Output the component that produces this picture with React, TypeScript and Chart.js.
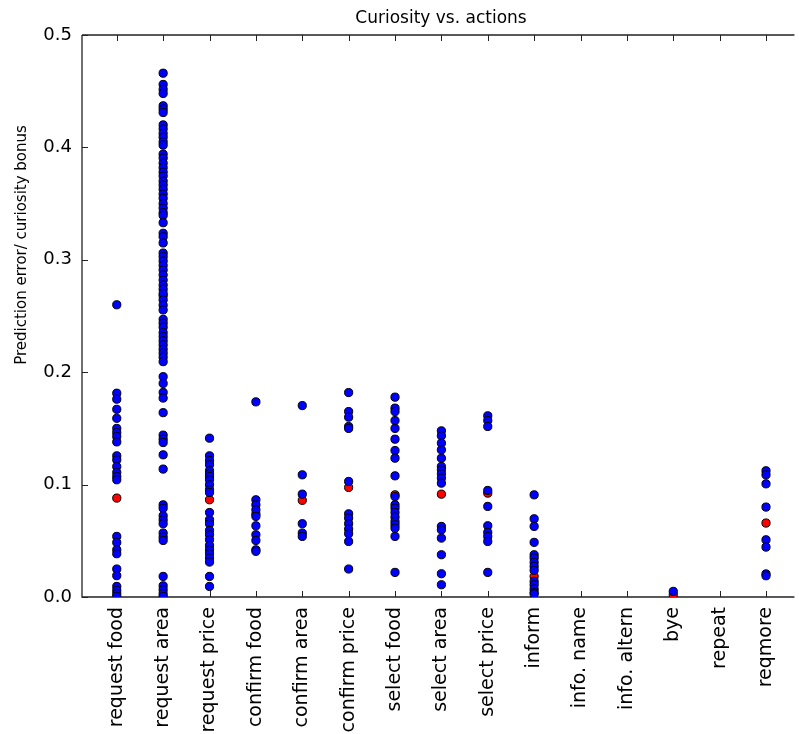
import React, { useEffect, useRef } from "react";
import { Chart, registerables } from "chart.js";

Chart.register(...registerables);

const FONT = "'DejaVu Sans', sans-serif";

const categories = [
  "request food",
  "request area",
  "request price",
  "confirm food",
  "confirm area",
  "confirm price",
  "select food",
  "select area",
  "select price",
  "inform",
  "info. name",
  "info. altern",
  "bye",
  "repeat",
  "reqmore",
];

// Per-action prediction error samples
const requestFood = [
  0.26, 0.1813, 0.176, 0.167, 0.159, 0.15, 0.1463, 0.1428, 0.138, 0.1256, 0.122, 0.116, 0.1108,
  0.1072, 0.1043, 0.0539, 0.0485, 0.042, 0.0385, 0.0249, 0.019, 0.0094, 0.0059, 0.003, 0.0005,
];
const requestArea = [
  0.466, 0.456, 0.4516, 0.448, 0.437, 0.434, 0.431, 0.42, 0.4165, 0.4124, 0.409, 0.405, 0.402,
  0.394, 0.3905, 0.386, 0.382, 0.378, 0.3745, 0.37, 0.3665, 0.3627, 0.3585, 0.3547, 0.35, 0.346,
  0.342, 0.3395, 0.333, 0.3236, 0.3205, 0.315, 0.306, 0.3028, 0.299, 0.295, 0.291, 0.2865, 0.282,
  0.2776, 0.2738, 0.27, 0.2643, 0.2596, 0.2554, 0.247, 0.2436, 0.24, 0.2352, 0.2316, 0.228,
  0.2243, 0.2204, 0.2169, 0.2133, 0.2094, 0.196, 0.19, 0.182, 0.177, 0.164, 0.144, 0.1404, 0.1374,
  0.1265, 0.1138, 0.082, 0.079, 0.0723, 0.0687, 0.0652, 0.0569, 0.0533, 0.0503, 0.0183, 0.01,
  0.0065, 0.003, 0.0005,
];
const requestPrice = [
  0.1413, 0.1256, 0.1214, 0.1176, 0.1123, 0.1096, 0.1072, 0.1043, 0.0998, 0.0954, 0.093, 0.0752,
  0.0687, 0.0652, 0.0592, 0.0554, 0.0509, 0.0459, 0.042, 0.0385, 0.0347, 0.0311, 0.0183, 0.0094,
];
const confirmFood = [0.1736, 0.0865, 0.082, 0.0776, 0.0717, 0.0634, 0.0554, 0.0503, 0.042, 0.0406];
const confirmArea = [0.1703, 0.1087, 0.0915, 0.0652, 0.0569, 0.0539];
const confirmPrice = [
  0.1819, 0.165, 0.16, 0.1517, 0.15, 0.1028, 0.074, 0.0702, 0.0652, 0.0604, 0.0563, 0.0494, 0.0249,
];
const selectFood = [
  0.1778, 0.168, 0.165, 0.157, 0.15, 0.1404, 0.1303, 0.1235, 0.1078, 0.0894, 0.082, 0.079, 0.0752,
  0.0711, 0.0672, 0.0643, 0.0613, 0.0539, 0.0219,
];
const selectArea = [
  0.1478, 0.1434, 0.1369, 0.1309, 0.1235, 0.1161, 0.1132, 0.1096, 0.1058, 0.1013, 0.0628, 0.0598,
  0.0524, 0.0376, 0.0207, 0.0109,
];
const selectPrice = [0.1612, 0.157, 0.1517, 0.0948, 0.0806, 0.0634, 0.0575, 0.0539, 0.0494, 0.0219];
const inform = [
  0.0909, 0.0696, 0.0628, 0.0486, 0.0376, 0.0347, 0.0308, 0.0272, 0.0237, 0.0139, 0.0109, 0.0071,
  0.0041, 0.0027,
];
const infoName: number[] = [];
const infoAltern: number[] = [];
const bye = [0.005];
const repeat: number[] = [];
const reqmore = [0.1123, 0.1087, 0.1007, 0.08, 0.0509, 0.0444, 0.0205, 0.0189];

// Mean curiosity bonus per action (null where the action never occurs)
const means: (number | null)[] = [
  0.088, 0.268, 0.0865, 0.0738, 0.086, 0.0975, 0.0909, 0.0915, 0.0924, 0.0183, null, null, 0.002,
  null, 0.0658,
];

const yTicks = [0, 0.1, 0.2, 0.3, 0.4, 0.5];

const samplesByAction = [
  requestFood, requestArea, requestPrice, confirmFood, confirmArea, confirmPrice,
  selectFood, selectArea, selectPrice, inform, infoName, infoAltern, bye, repeat, reqmore,
];

// Axes frame with inward-pointing ticks, title and y-axis label
const framePlugin = {
  id: "frame",
  beforeDatasetsDraw(chart: any) {
    const { ctx, chartArea } = chart;
    const { left, right, top, bottom } = chartArea;
    const xs = chart.scales.x;
    const ys = chart.scales.y;
    ctx.save();
    ctx.strokeStyle = "#222";
    ctx.lineWidth = 1.3;
    ctx.beginPath();
    ctx.moveTo(left, top);
    ctx.lineTo(right + 2, top);
    ctx.moveTo(left, top);
    ctx.lineTo(left, bottom);
    ctx.lineTo(right + 2, bottom);
    ctx.stroke();
    ctx.lineWidth = 1;
    ctx.beginPath();
    categories.forEach((_, i) => {
      const px = Math.round(xs.getPixelForValue(i)) + 0.5;
      ctx.moveTo(px, bottom);
      ctx.lineTo(px, bottom - 6);
      ctx.moveTo(px, top);
      ctx.lineTo(px, top + 6);
    });
    yTicks.forEach((v) => {
      const py = Math.round(ys.getPixelForValue(v)) + 0.5;
      ctx.moveTo(left, py);
      ctx.lineTo(left + 6, py);
    });
    ctx.stroke();
    ctx.restore();
  },
  afterDraw(chart: any) {
    const { ctx } = chart;
    ctx.save();
    ctx.fillStyle = "#000";
    ctx.font = `17px ${FONT}`;
    ctx.textAlign = "center";
    ctx.textBaseline = "middle";
    ctx.fillText("Curiosity vs. actions", 441, 19);
    ctx.translate(22, 245);
    ctx.rotate(-Math.PI / 2);
    ctx.font = `15px ${FONT}`;
    ctx.fillText("Prediction error/ curiosity bonus", 0, 0);
    ctx.restore();
  },
};

export default function App() {
  const canvasRef = useRef<HTMLCanvasElement | null>(null);

  useEffect(() => {
    if (!canvasRef.current) return;
    const samples = samplesByAction.flatMap((vals, i) => vals.map((v) => ({ x: i, y: v })));
    const meanPoints = means
      .map((v, i) => (v === null ? null : { x: i, y: v }))
      .filter((p) => p !== null);

    const chart = new Chart(canvasRef.current, {
      type: "scatter",
      data: {
        datasets: [
          {
            label: "samples",
            data: samples,
            backgroundColor: "#0000ff",
            borderColor: "#000000",
            borderWidth: 1,
            pointRadius: 4.1,
            clip: 0,
          },
          {
            label: "mean",
            data: meanPoints as any,
            backgroundColor: "#ff0000",
            borderColor: "#000000",
            borderWidth: 1,
            pointRadius: 4.1,
            clip: 0,
          },
        ],
      },
      options: {
        animation: false,
        responsive: false,
        devicePixelRatio: 1,
        layout: { padding: { top: 35, left: 0, right: 0, bottom: 0 } },
        plugins: {
          legend: { display: false },
          title: { display: false },
          tooltip: { enabled: false },
        },
        scales: {
          x: {
            type: "linear",
            min: -0.75,
            max: 14.57,
            afterFit: (s: any) => {
              s.height = 137;
            },
            afterBuildTicks: (axis: any) => {
              axis.ticks = categories.map((_, i) => ({ value: i }));
            },
            grid: { display: false, drawTicks: false },
            border: { display: false },
            ticks: {
              autoSkip: false,
              minRotation: 90,
              maxRotation: 90,
              padding: 10,
              color: "#000",
              font: { family: FONT, size: 19 },
              callback: (v: any) => categories[Math.round(Number(v))] ?? "",
            },
          },
          y: {
            min: 0,
            max: 0.5,
            afterFit: (s: any) => {
              s.width = 82;
            },
            afterBuildTicks: (axis: any) => {
              axis.ticks = yTicks.map((v) => ({ value: v }));
            },
            grid: { display: false, drawTicks: false },
            border: { display: false },
            ticks: {
              padding: 10,
              color: "#000",
              font: { family: FONT, size: 18 },
              callback: (v: any) => Number(v).toFixed(1),
            },
          },
        },
      },
      plugins: [framePlugin],
    });
    return () => chart.destroy();
  }, []);

  return (
    <div style={{ position: "absolute", left: 0, top: 0, width: 799, height: 734, background: "#fff" }}>
      <canvas ref={canvasRef} width={799} height={734} style={{ display: "block" }} />
    </div>
  );
}
